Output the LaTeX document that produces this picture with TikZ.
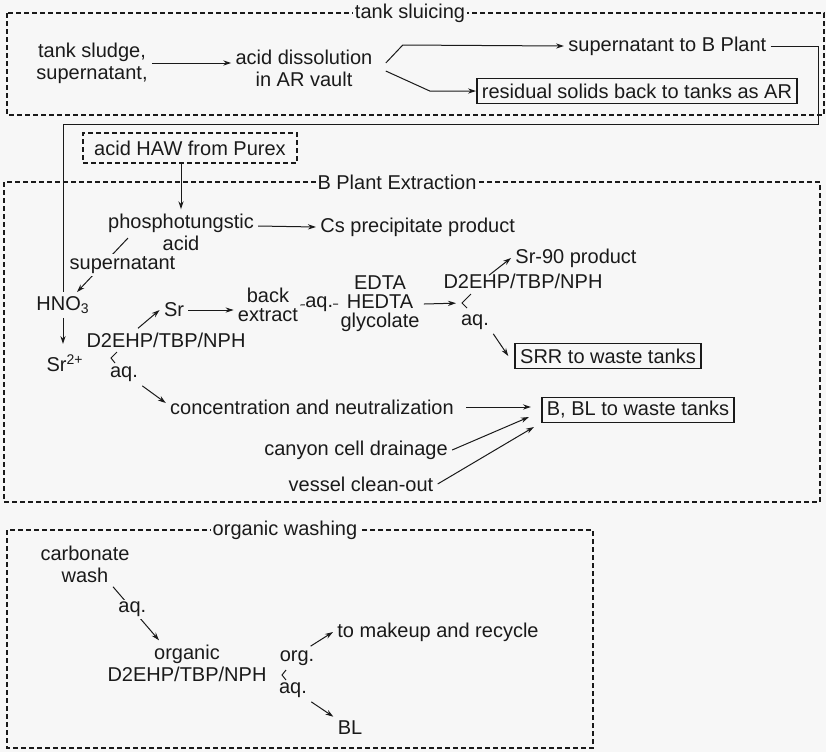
\documentclass[tikz,border=0pt]{standalone}
\usepackage{fontspec}
\setmainfont{Liberation Sans}
\usepackage{tikz}
\usetikzlibrary{arrows.meta,positioning,calc}
\definecolor{paper}{HTML}{F7F7F7}
\definecolor{ink}  {HTML}{1A1A1A}
\tikzset{
  txt/.style      ={align=center, inner sep=2pt, text=ink,
                    font=\fontsize{10}{11}\selectfont},
  tight/.style    ={txt, font=\fontsize{10}{9.5}\selectfont},
  lbl/.style      ={txt, fill=paper, inner sep=1pt},
  wastebox/.style ={txt, draw=ink, line width=0.9pt,
                    inner xsep=2.5pt, minimum height=12.5pt},
  feedbox/.style  ={txt, draw=ink, line width=0.6pt, dash pattern=on 2.5pt off 1.5pt,
                    minimum width=107pt, minimum height=15pt},
  areabox/.style  ={draw=ink, line width=0.6pt, dash pattern=on 2.5pt off 1.5pt},
  arealbl/.style  ={txt, fill=paper, inner sep=1pt},
  flowarr/.style  ={-{Stealth[length=4pt,width=2.6pt]}, line width=0.5pt, draw=ink},
  plainln/.style  ={line width=0.5pt, draw=ink},
}

\begin{document}
\begin{tikzpicture}[x=0.5pt,y=-0.5pt]
    \useasboundingbox (0,0) rectangle (826,752);
    \fill[paper] (0,0) rectangle (826,752);
    % tank sluicing
    \draw[areabox] (7,13) rectangle (824,115);
    \node[arealbl] (tslbl) at (410,13) {tank sluicing};
    \node[txt] (sludge) at (92,63) {tank sludge,\\supernatant,};
    \node[txt] (dissol) at (304,68) {acid dissolution\\in AR vault};
    \node[txt,anchor=west] (supb) at (564,46) {supernatant to B Plant};
    \node[wastebox] (resid) at (637,91) {residual solids back to tanks as AR};
    \draw[flowarr] (sludge.east) -- (sludge.east -| dissol.west);
    \draw[flowarr] ([shift={(9,-5)}]dissol.east) -- ++(17,-18) -- (supb.west);
    \draw[flowarr] ([shift={(9,3)}]dissol.east) -- ++(44,20) -- (resid.west);
    % feed from Purex
    \node[feedbox] (haw) at (190,148) {acid HAW from Purex};
    % B Plant Extraction
    \draw[areabox] (4,182) rectangle (820,502);
    \node[arealbl] (bplbl) at (397,182) {B Plant Extraction};
    \node[txt] (phospho) at (181,232) {phosphotungstic\\acid};
    \node[txt,anchor=west] (csprod) at (316,227) {Cs precipitate product};
    \node[txt] (hno3) at (63,305) {HNO\textsubscript{3}};
    \node[txt] (srion) at (65,363) {Sr\textsuperscript{2+}};
    \node[txt] (dehpa) at (166,340) {D2EHP/TBP/NPH};
    \node[txt] (srorg) at (174,310) {Sr};
    \node[tight] (backex) at (268,305) {back\\extract};
    \node[tight] (edta) at (380,304) {EDTA\\HEDTA\\glycolate};
    \node[txt] (dehpb) at (523,281) {D2EHP/TBP/NPH};
    \node[txt] (sr90) at (576,258) {Sr-90 product};
    \node[txt] (aqa) at (124,374) {aq.};
    \node[txt] (aqc) at (475,322) {aq.};
    \node[txt] (conc) at (312,407) {concentration and neutralization};
    \node[wastebox] (srr) at (608,356) {SRR to waste tanks};
    \node[wastebox] (bbl) at (638,410) {B, BL to waste tanks};
    \node[txt] (canyon) at (356,450) {canyon cell drainage};
    \node[txt] (vessel) at (361,484) {vessel clean-out};
    \coordinate (forka) at (111,358);
    \coordinate (forkb) at (462,303);
    \draw[plainln] (forka) ++(6,-6) -- (forka) -- ++(4,5);
    \draw[plainln] (forkb) ++(9,-9) -- (forkb) -- ++(5,5);
    \draw[plainln] (supb.east) -| (818,124) -| (hno3.north);
    \draw[flowarr] (haw.south -| phospho.north) -- (phospho.north);
    \draw[flowarr] ([yshift=3pt]phospho.east) -- (csprod.west);
    \draw[flowarr] ([shift={(-53,6)}]phospho.center) -- node[lbl,xshift=10pt]{supernatant} ([xshift=7pt]hno3.north);
    \draw[flowarr,shorten >=3pt] (hno3.south) -- (srion.north -| hno3.south);
    \draw[flowarr] ([xshift=-14pt]dehpa.north) -- (srorg.west);
    \draw[flowarr] (srorg.east) -- (srorg.east -| backex.west);
    \draw[plainln] ([xshift=-1pt]backex.east) -- node[lbl,inner sep=0pt]{aq.} ([xshift=1pt]edta.west);
    \draw[flowarr,shorten >=3pt] (edta.east) -- (forkb);
    \draw[flowarr] ([shift={(-34,6)}]dehpb.north) -- (sr90.west);
    \draw[flowarr] (aqc.south east) -- ([xshift=-3pt]srr.west);
    \draw[flowarr] (aqa.south east) -- ([yshift=2pt]conc.west);
    \draw[flowarr,shorten <=4pt,shorten >=5pt] (conc.east) -- (conc.east -| bbl.west);
    \draw[flowarr] (canyon.east) -- ([shift={(-12,7)}]bbl.west);
    \draw[flowarr] (vessel.east) -- ([shift={(-7,17)}]bbl.west);
    % organic washing
    \draw[areabox] (7,530) rectangle (593,748);
    \node[arealbl] (owlbl) at (285,530) {organic washing};
    \node[txt] (carb) at (85,564) {carbonate\\wash};
    \node[txt] (orgmix) at (187,663) {organic\\D2EHP/TBP/NPH};
    \node[txt] (orgl) at (297,658) {org.};
    \node[txt] (aqd) at (293,690) {aq.};
    \node[txt,anchor=west] (mkup) at (333,632) {to makeup and recycle};
    \node[txt] (blout) at (350,728) {BL};
    \coordinate (forkc) at (282,675);
    \draw[plainln] (forkc) ++(4,-5) -- (forkc) -- ++(4,5);
    \draw[flowarr] ([xshift=14pt]carb.south) -- node[lbl,pos=0.42]{aq.} ([xshift=-14pt]orgmix.north);
    \draw[flowarr] ([xshift=-4pt]orgl.north east) -- (mkup.west);
    \draw[flowarr] (aqd.south east) -- (blout.north west);
\end{tikzpicture}
\end{document}
